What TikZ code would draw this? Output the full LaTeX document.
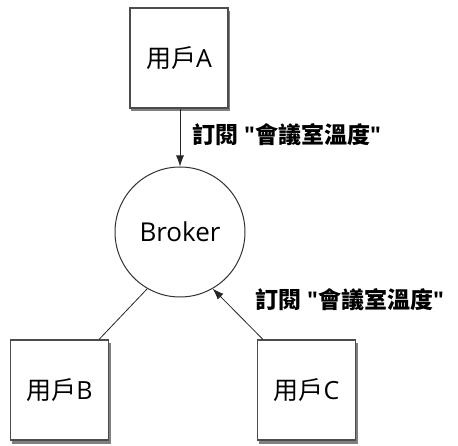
\documentclass[tikz,border=0pt]{standalone}
\usepackage{fontspec}
\setmainfont{Open Sans}[Ligatures=TeXOff]
\newfontfamily\cjk{Noto Sans CJK TC}
\usetikzlibrary{arrows.meta}
\begin{document}
\begin{tikzpicture}[x=1pt,y=-1pt,
  client/.style={draw=black!70, line width=1.4pt, fill=white, minimum width=98pt, minimum height=100pt, inner sep=0pt, font=\fontsize{25}{30}\selectfont},
  shadowbox/.style={fill=black!50, draw=none, minimum width=99pt, minimum height=100pt, inner sep=0pt},
  brokernode/.style={circle, draw=black!80, line width=1pt, fill=white, minimum size=130pt, inner sep=0pt, font=\fontsize{26}{30}\selectfont},
  lbl/.style={font=\bfseries\fontsize{23}{27}\selectfont, inner sep=0pt},
  conn/.style={line width=0.8pt, draw=black!85},
  arr/.style={conn, -{Latex[length=11pt,width=8pt]}}]
\useasboundingbox (0,0) rectangle (458,446);
\node[shadowbox] (as) at (180.5,61.5) {};
\node[shadowbox] (bs) at (61,393.5) {};
\node[shadowbox] (cs) at (308,393.5) {};
\node[client] (a) at (179,58) {{\cjk 用戶}A};
\node[client] (b) at (59.5,390) {{\cjk 用戶}B};
\node[client] (c) at (306.5,390) {{\cjk 用戶}C};
\node[brokernode] (k) at (180,232) {Broker};
\draw[arr] (a.south -| k.north) -- (k.north);
\draw[conn] (b.north east) ++(-10,0) coordinate (bt) (bt) -- (k.240);
\draw[arr] (c.north west) ++(6,0) coordinate (ct) (ct) -- (k.300);
\node[lbl, anchor=west] (l1) at (192,135) {{\cjk 訂閱} "{\cjk 會議室溫度}"};
\node[lbl, anchor=west] (l2) at (255,300) {{\cjk 訂閱} "{\cjk 會議室溫度}"};
\end{tikzpicture}
\end{document}
